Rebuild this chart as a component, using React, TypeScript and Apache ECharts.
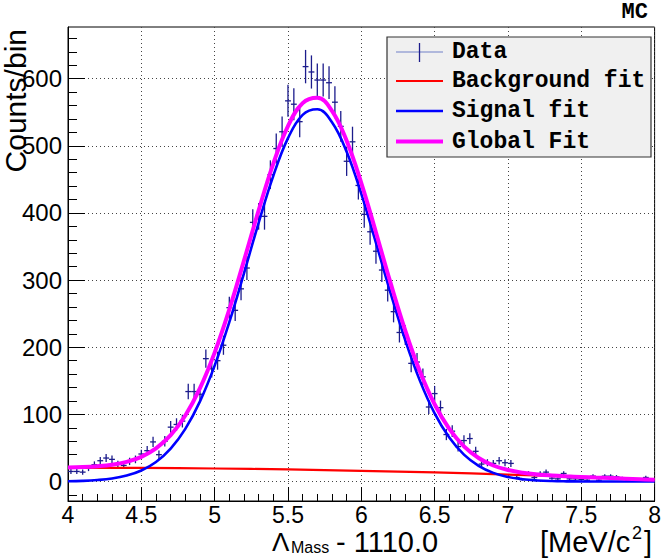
import React, { useEffect, useRef } from "react";
import * as echarts from "echarts";

// ---- data ----
const binCenters = [
  4.02, 4.06, 4.1, 4.14, 4.18, 4.22, 4.26, 4.3, 4.34, 4.38,
  4.42, 4.46, 4.5, 4.54, 4.58, 4.62, 4.66, 4.7, 4.74, 4.78,
  4.82, 4.86, 4.9, 4.94, 4.98, 5.02, 5.06, 5.1, 5.14, 5.18,
  5.22, 5.26, 5.3, 5.34, 5.38, 5.42, 5.46, 5.5, 5.54, 5.58,
  5.62, 5.66, 5.7, 5.74, 5.78, 5.82, 5.86, 5.9, 5.94, 5.98,
  6.02, 6.06, 6.1, 6.14, 6.18, 6.22, 6.26, 6.3, 6.34, 6.38,
  6.42, 6.46, 6.5, 6.54, 6.58, 6.62, 6.66, 6.7, 6.74, 6.78,
  6.82, 6.86, 6.9, 6.94, 6.98, 7.02, 7.06, 7.1, 7.14, 7.18,
  7.22, 7.26, 7.3, 7.34, 7.38, 7.42, 7.46, 7.5, 7.54, 7.58,
  7.62, 7.66, 7.7, 7.74, 7.78, 7.82, 7.86, 7.9, 7.94, 7.98,
];
const counts = [
  15, 15, 14, 20, 25, 31, 35, 33, 26, 24,
  30, 33, 41, 46, 59, 40, 60, 81, 85, 90,
  134, 134, 130, 183, 168, 180, 203, 259, 255, 287,
  318, 386, 395, 395, 457, 496, 521, 567, 562, 536,
  618, 610, 598, 598, 594, 565, 529, 477, 506, 441,
  398, 372, 343, 315, 285, 253, 222, 218, 176, 178,
  156, 111, 131, 110, 70, 75, 52, 61, 64, 45,
  26, 28, 27, 31, 28, 27, 6, 3, 12, 6,
  12, 14, 5, 4, 12, 4, 4, 3, 2, 8,
  2, 8, 8, 7, 5, 2, 2, 2, 6, 2,
];
const binHalfWidth = 0.02;

const fitX = [
  4.0, 4.1, 4.2, 4.3, 4.4, 4.5, 4.6, 4.7, 4.8, 4.9,
  5.0, 5.1, 5.2, 5.3, 5.4, 5.5, 5.6, 5.7, 5.8, 5.9,
  6.0, 6.1, 6.2, 6.3, 6.4, 6.5, 6.6, 6.7, 6.8, 6.9,
  7.0, 7.1, 7.2, 7.3, 7.4, 7.5, 7.6, 7.7, 7.8, 7.9, 8.0,
];
const signalFit = [
  0.5, 1.0, 2.2, 4.5, 8.9, 16.5, 29.2, 49.1, 78.5, 119.4,
  172.6, 237.3, 310.2, 385.4, 455.3, 511.4, 546.1, 554.4, 535.2, 491.2,
  428.5, 355.5, 280.4, 210.2, 149.9, 101.6, 65.5, 40.1, 23.4, 12.9,
  6.8, 3.4, 1.6, 0.7, 0.3, 0.1, 0.05, 0, 0, 0, 0,
];
const globalFit = [
  21.0, 21.5, 22.7, 24.9, 29.2, 36.7, 49.3, 69.0, 98.3, 139.0,
  192.0, 256.4, 329.1, 404.0, 473.6, 529.4, 563.7, 571.7, 552.1, 507.6,
  444.5, 371.0, 295.5, 224.8, 163.9, 115.1, 78.4, 52.4, 35.1, 23.9,
  17.2, 13.1, 10.6, 9.0, 7.8, 6.8, 5.9, 5.1, 4.3, 3.4, 2.5,
];
const bgX = [4.0, 4.5, 5.0, 5.5, 6.0, 6.5, 7.0, 7.5, 8.0];
const bgFit = [20.5, 20.2, 19.4, 18.0, 16.0, 13.5, 10.4, 6.7, 2.5];

const yMajorTicks = [0, 100, 200, 300, 400, 500, 600];
const yMinorTicks = [
  -20, 20, 40, 60, 80, 120, 140, 160, 180, 220, 240, 260, 280,
  320, 340, 360, 380, 420, 440, 460, 480, 520, 540, 560, 580, 620, 640, 660,
];
const legendNames = ["Data", "Background fit", "Signal fit", "Global Fit"];

const DATA_COLOR = "#1c1c8c";
const MONO = "'Liberation Mono', 'DejaVu Sans Mono', monospace";
const SANS = "'Liberation Sans', Arial, Helvetica, sans-serif";

export default function App() {
  const ref = useRef<HTMLDivElement>(null);

  useEffect(() => {
    document.body.style.margin = "0";
    if (!ref.current) return;
    const chart = echarts.init(ref.current, undefined, { renderer: "svg" });

    const dataPts = binCenters.map((x, i) => [x, counts[i], Math.sqrt(counts[i])]);
    const pairs = (xs: number[], ys: number[]) => xs.map((x, i) => [x, ys[i]]);

    const legendX = 387, legendY = 37, legendW = 264, legendH = 120;
    const rowY = [52, 81, 111, 141.5];
    const lineX1 = 396, lineX2 = 443;

    const titleText = (text: string, x: number, y: number, size: number, lh: number) => ({
      type: "text", x, y, z: 11,
      style: {
        text, fill: "#000", font: `${size}px ${SANS}`, lineHeight: lh,
        textAlign: "left", textVerticalAlign: "middle",
      },
    });

    const option: any = {
      animation: false,
      backgroundColor: "#ffffff",
      grid: {
        left: 68, top: 27, width: 589, height: 474,
        show: true, borderColor: "#000", borderWidth: 1, backgroundColor: "transparent",
      },
      xAxis: {
        type: "value", min: 4, max: 8, interval: 0.5,
        axisLine: { show: true, onZero: false, lineStyle: { color: "#000", width: 1 } },
        axisTick: { show: true, inside: true, length: 14, lineStyle: { color: "#000" } },
        minorTick: { show: true, splitNumber: 5, length: 7, lineStyle: { color: "#000" } },
        axisLabel: { color: "#000", fontSize: 23, fontFamily: SANS, margin: 4, lineHeight: 20 },
        splitLine: { show: true, lineStyle: { color: "#444", width: 1, type: [1, 3] } },
      },
      yAxis: [
        {
          type: "value", min: -29, max: 677,
          axisLine: { show: true, onZero: false, lineStyle: { color: "#000", width: 1 } },
          axisTick: { show: true, inside: true, length: 17, customValues: yMajorTicks, lineStyle: { color: "#000" } },
          axisLabel: { color: "#000", fontSize: 24, fontFamily: SANS, margin: 6, customValues: yMajorTicks },
          splitLine: { show: true, lineStyle: { color: "#444", width: 1, type: [1, 3] } },
        },
        {
          type: "value", min: -29, max: 677, position: "left", offset: 0,
          axisLine: { show: false },
          axisTick: { show: true, inside: true, length: 9, customValues: yMinorTicks, lineStyle: { color: "#000" } },
          axisLabel: { show: false },
          splitLine: { show: false },
        },
      ],
      series: [
        {
          name: legendNames[0],
          type: "custom",
          data: dataPts,
          encode: { x: 0, y: 1 },
          clip: true,
          z: 2,
          renderItem: (params: any, api: any) => {
            const x = api.value(0), y = api.value(1), e = api.value(2);
            const l = api.coord([x - binHalfWidth, y]);
            const r = api.coord([x + binHalfWidth, y]);
            const t = api.coord([x, y + e]);
            const b = api.coord([x, y - e]);
            return {
              type: "group",
              children: [
                { type: "line", shape: { x1: l[0], y1: l[1], x2: r[0], y2: r[1] }, style: { stroke: DATA_COLOR, lineWidth: 1.3 } },
                { type: "line", shape: { x1: t[0], y1: t[1], x2: b[0], y2: b[1] }, style: { stroke: DATA_COLOR, lineWidth: 1.3 } },
              ],
            };
          },
        },
        {
          name: legendNames[1], type: "line", data: pairs(bgX, bgFit), smooth: 0.4,
          showSymbol: false, symbol: "none", clip: true, z: 3,
          lineStyle: { color: "#ff0000", width: 2.2 },
        },
        {
          name: legendNames[2], type: "line", data: pairs(fitX, signalFit), smooth: 0.4,
          showSymbol: false, symbol: "none", clip: true, z: 4,
          lineStyle: { color: "#0000ff", width: 2.6 },
        },
        {
          name: legendNames[3], type: "line", data: pairs(fitX, globalFit), smooth: 0.4,
          showSymbol: false, symbol: "none", clip: true, z: 5,
          lineStyle: { color: "#ff00ff", width: 4 },
        },
      ],
      graphic: [
        // legend box
        { type: "rect", shape: { x: legendX, y: legendY, width: legendW, height: legendH },
          style: { fill: "#f0f0f0", stroke: "#333", lineWidth: 1.2 }, z: 10 },
        { type: "line", shape: { x1: lineX1, y1: rowY[0], x2: lineX2, y2: rowY[0] }, style: { stroke: "#7080c8", lineWidth: 1 }, z: 11 },
        { type: "line", shape: { x1: 419.5, y1: rowY[0] - 9, x2: 419.5, y2: rowY[0] + 10 }, style: { stroke: DATA_COLOR, lineWidth: 1.3 }, z: 11 },
        { type: "line", shape: { x1: lineX1, y1: rowY[1], x2: lineX2, y2: rowY[1] }, style: { stroke: "#ff0000", lineWidth: 2.2 }, z: 11 },
        { type: "line", shape: { x1: lineX1, y1: rowY[2], x2: lineX2, y2: rowY[2] }, style: { stroke: "#0000ff", lineWidth: 2.6 }, z: 11 },
        { type: "line", shape: { x1: lineX1, y1: rowY[3], x2: lineX2, y2: rowY[3] }, style: { stroke: "#ff00ff", lineWidth: 4 }, z: 11 },
        ...legendNames.map((name, i) => ({
          type: "text", x: 452, y: rowY[i], z: 11,
          style: { text: name, fill: "#000", font: `bold 23px ${MONO}`, textAlign: "left", textVerticalAlign: "middle" },
        })),
        // MC label
        { type: "text", x: 648, y: 12, z: 11,
          style: { text: "MC", fill: "#000", font: `bold 22px ${MONO}`, lineHeight: 20, textAlign: "right", textVerticalAlign: "middle" } },
        // y axis title
        { type: "text", x: 15, y: 29, rotation: Math.PI / 2, z: 11,
          style: { text: "Counts/bin", fill: "#000", font: `30px ${SANS}`, lineHeight: 26, textAlign: "right", textVerticalAlign: "middle" } },
        // x axis title
        titleText("Λ", 272, 542, 26, 20),
        titleText("Mass", 291, 547, 16, 14),
        titleText("- 1110.0", 336, 542, 29, 20),
        titleText("[MeV/c", 540, 542, 29, 20),
        titleText("2", 632, 533, 18, 14),
        titleText("]", 644, 542, 29, 20),
      ],
    };

    chart.setOption(option);
    return () => chart.dispose();
  }, []);

  return <div ref={ref} style={{ width: 664, height: 558 }} />;
}
